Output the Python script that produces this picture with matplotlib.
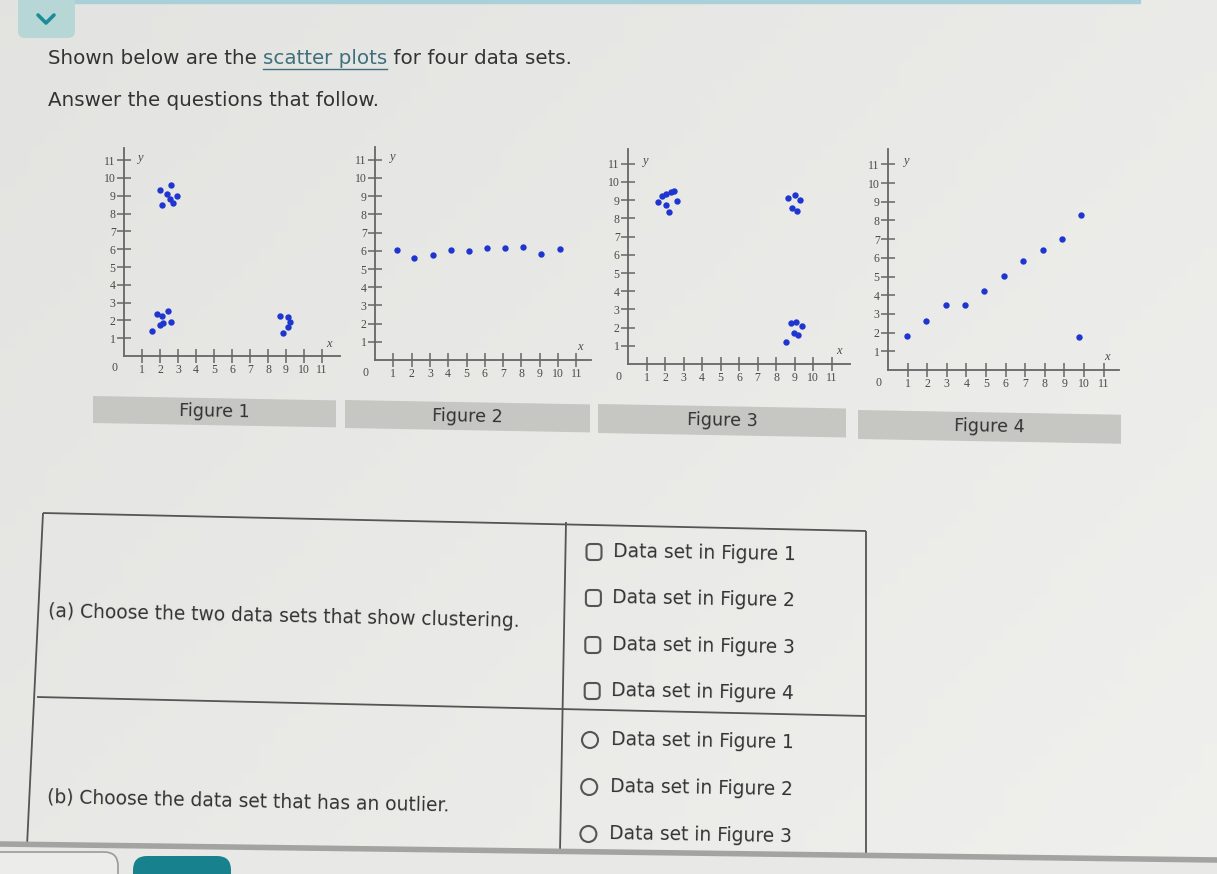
import matplotlib
matplotlib.use("Agg")
import matplotlib.pyplot as plt
import matplotlib.patches as patches
import numpy as np

W, H = 1217, 874

# values
fig1_x = [2.0, 2.59, 2.37, 2.96, 2.56, 2.13, 2.74,
          1.81, 2.09, 2.46, 2.19, 2.0, 2.61, 1.57,
          8.67, 9.09, 9.22, 9.13, 8.81]
fig1_y = [9.33, 9.6, 9.1, 9.0, 8.8, 8.48, 8.58,
          2.36, 2.27, 2.55, 1.87, 1.74, 1.93, 1.42,
          2.27, 2.17, 1.93, 1.61, 1.31]

fig2_x = [1.18, 2.15, 3.15, 4.15, 5.13, 6.13, 7.11, 8.09, 9.09, 10.09]
fig2_y = [6.02, 5.6, 5.78, 6.06, 5.98, 6.15, 6.13, 6.2, 5.8, 6.09]

fig3_x = [1.62, 1.84, 2.07, 2.34, 2.47, 2.04, 2.65, 2.22,
          8.65, 9.05, 9.28, 8.86, 9.15,
          8.79, 9.1, 9.39, 8.97, 9.19, 8.56]
fig3_y = [8.88, 9.25, 9.36, 9.43, 9.49, 8.75, 8.94, 8.33,
          9.12, 9.30, 8.99, 8.57, 8.39,
          2.24, 2.33, 2.11, 1.72, 1.6, 1.23]

fig4_x = [0.99, 1.96, 2.95, 3.95, 4.92, 5.91, 6.9, 7.89, 8.88, 9.86, 9.73]
fig4_y = [1.80, 2.61, 3.46, 3.46, 4.25, 5.04, 5.82, 6.41, 7.02, 8.3, 1.77]

tick_values = list(range(1, 12))
fig_labels = ["Figure 1", "Figure 2", "Figure 3", "Figure 4"]
question_a = "(a) Choose the two data sets that show clustering."
question_b = "(b) Choose the data set that has an outlier."
options_a = ["Data set in Figure 1", "Data set in Figure 2",
             "Data set in Figure 3", "Data set in Figure 4"]
options_b = ["Data set in Figure 1", "Data set in Figure 2", "Data set in Figure 3"]

TXT = "#333333"
LINE = "#555555"
DOT = "#1f35d0"

fig = plt.figure(figsize=(W / 100, H / 100), dpi=100)
bg = fig.add_axes([0, 0, 1, 1])
bg.set_xlim(0, W)
bg.set_ylim(H, 0)
bg.axis("off")

# photo-like light gray background
yy, xx = np.mgrid[0:1:60j, 0:1:80j]
shade = np.clip(0.89 + 0.03 * xx + 0.02 * yy, 0, 1)
bg.imshow(np.dstack([shade, shade, shade * 0.99]), extent=(0, W, H, 0),
          aspect="auto", zorder=0)

# top strip and collapse button
bg.add_patch(patches.Rectangle((60, 0), 1080, 3, color="#a9cfd8", zorder=1))
bg.add_patch(patches.FancyBboxPatch((18, -10), 57, 48,
                                    boxstyle="round,pad=0,rounding_size=7",
                                    fc="#b6d7d5", ec="none", zorder=2))
bg.plot([38, 46, 54], [15, 23, 15], color="#1c8c98", lw=2.6,
        solid_capstyle="round", zorder=3)

# header text with the underlined link
r = fig.canvas.get_renderer()
t1 = bg.text(48, 58, "Shown below are the ", fontsize=14.3, color=TXT, va="center")
x1 = t1.get_window_extent(renderer=r).x1
t2 = bg.text(x1, 58, "scatter plots", fontsize=14.3, color="#3e6f7c", va="center")
e2 = t2.get_window_extent(renderer=r)
bg.plot([e2.x0, e2.x1], [69, 69], color="#3e6f7c", lw=1, zorder=3)
bg.text(e2.x1, 58, " for four data sets.", fontsize=14.3, color=TXT, va="center")
bg.text(48, 100, "Answer the questions that follow.", fontsize=14.3, color=TXT, va="center")


def scatter_panel(ox, oy, ux, uy, xmax, ymax, xs, ys):
    ax = fig.add_axes([ox / W, 1 - oy / H, xmax * ux / W, ymax * uy / H])
    ax.set_facecolor("none")
    ax.set_xlim(0, xmax)
    ax.set_ylim(0, ymax)
    for s in ["top", "right"]:
        ax.spines[s].set_visible(False)
    for s in ["left", "bottom"]:
        ax.spines[s].set_color("#666666")
        ax.spines[s].set_linewidth(1.3)
    ax.set_xticks(tick_values)
    ax.set_yticks(tick_values)
    ax.tick_params(direction="inout", length=10, width=1.1, color="#666666",
                   labelsize=8.5, labelcolor="#4a4a4a", pad=1,
                   labelfontfamily="Liberation Serif")
    ax.text(-0.5, -0.7, "0", fontsize=8.5, color="#4a4a4a", ha="center",
            va="center", family="Liberation Serif")
    ax.text(0.75, 11.15, "y", fontsize=9, style="italic", color="#4a4a4a",
            va="center", family="Liberation Serif")
    ax.text(xmax - 0.75, 0.7, "x", fontsize=9, style="italic", color="#4a4a4a",
            va="center", family="Liberation Serif")
    ax.scatter(xs, ys, s=21, color=DOT, zorder=3, clip_on=False, linewidths=0)
    return ax


scatter_panel(124, 356, 18.0, 17.8, 12.0, 11.7, fig1_x, fig1_y)
scatter_panel(375, 360, 18.3, 18.2, 11.8, 11.7, fig2_x, fig2_y)
scatter_panel(628, 364, 18.5, 18.2, 12.0, 11.8, fig3_x, fig3_y)
scatter_panel(888, 370, 19.6, 18.7, 11.8, 11.8, fig4_x, fig4_y)

# figure caption bars (slightly slanted like the photo)
bars = [(93, 336, 396, 27), (345, 590, 400, 28), (598, 846, 404, 29), (858, 1121, 410, 29)]
slope = 0.018
for (xl, xr, yt, h), lab in zip(bars, fig_labels):
    dy = (xr - xl) * slope
    bg.add_patch(patches.Polygon([(xl, yt), (xr, yt + dy), (xr, yt + dy + h), (xl, yt + h)],
                                 closed=True, fc="#c6c6c3", ec="none", zorder=2))
    bg.text((xl + xr) / 2, yt + h / 2 + dy / 2, lab, fontsize=12.6, color=TXT,
            ha="center", va="center", rotation=-1, zorder=3)

# question table
tbl = dict(color=LINE, lw=1.3, zorder=3, solid_capstyle="butt")
bg.plot([43, 866], [513, 531], **tbl)
bg.plot([43, 27], [513, 846], **tbl)
bg.plot([566, 560], [522, 852], **tbl)
bg.plot([866, 866], [531, 862], **tbl)
bg.plot([37, 866], [697, 716], **tbl)

bg.text(48, 612, question_a, fontsize=13.4, color=TXT, va="center", rotation=-1.2,
        rotation_mode="anchor")
bg.text(47, 797, question_b, fontsize=13.4, color=TXT, va="center", rotation=-1.2,
        rotation_mode="anchor")

ya = [552, 598, 645, 691]
for i, (lab, y) in enumerate(zip(options_a, ya)):
    cx = 594 - i * 0.6
    bg.add_patch(patches.FancyBboxPatch((cx - 7.5, y - 8), 15, 16,
                                        boxstyle="round,pad=0,rounding_size=4",
                                        fc="none", ec="#555555", lw=1.5, zorder=3))
    bg.text(cx + 19, y, lab, fontsize=13.4, color=TXT, va="center", rotation=-1,
            rotation_mode="anchor")

yb = [740, 787, 834]
for i, (lab, y) in enumerate(zip(options_b, yb)):
    cx = 590 - i * 0.8
    bg.add_patch(patches.Circle((cx, y), 8, fc="none", ec="#555555", lw=1.5, zorder=3))
    bg.text(cx + 21, y, lab, fontsize=13.4, color=TXT, va="center", rotation=-1,
            rotation_mode="anchor")

# screen edge at the bottom
bg.add_patch(patches.Polygon([(0, 844), (W, 860), (W, H), (0, H)], closed=True,
                             fc="#e8e8e6", ec="none", zorder=4))
bg.plot([0, W], [844, 860], color="#a3a3a1", lw=4, zorder=5)
bg.add_patch(patches.FancyBboxPatch((-12, 852), 130, 40,
                                    boxstyle="round,pad=0,rounding_size=14",
                                    fc="#ececea", ec="#9a9a98", lw=1.2, zorder=5))
bg.add_patch(patches.FancyBboxPatch((133, 856), 98, 40,
                                    boxstyle="round,pad=0,rounding_size=14",
                                    fc="#17818d", ec="none", zorder=5))

fig.savefig("out.png", dpi=100)
